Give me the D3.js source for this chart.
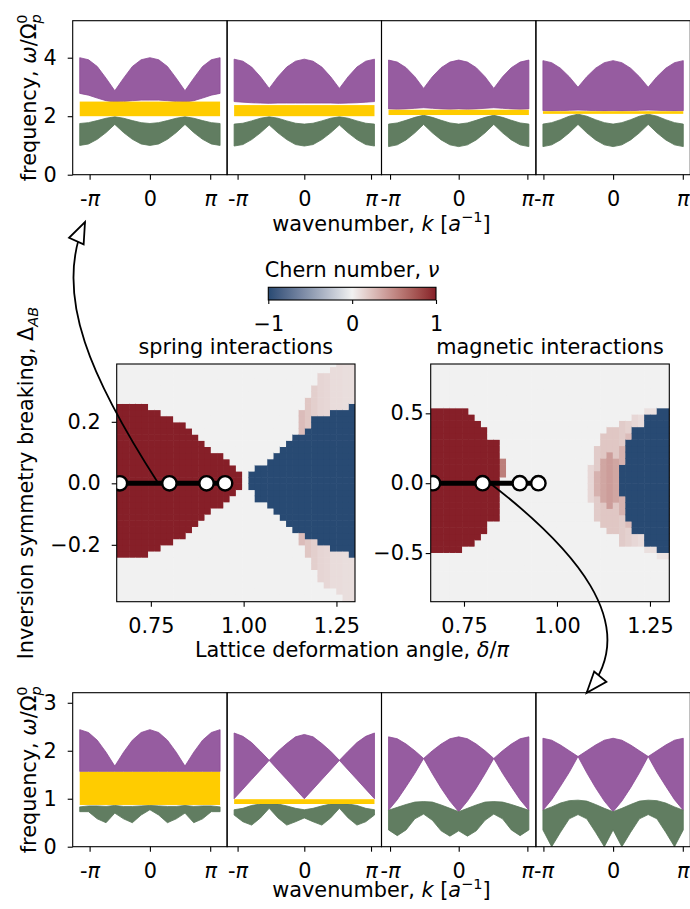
<!DOCTYPE html>
<meta charset='utf-8'>
<script src="https://d3js.org/d3.v7.min.js"></script>
<style>
  body { margin: 0; background: white; }
  svg text { font-family: 'DejaVu Sans', sans-serif; }
</style>
<body></body>
<script>

var _ = null;

// BAND STRUCTURE DATA
// band edges are read at these points along each panel's k range (fraction of kmax)
var uGrid = [-1, -0.875, -0.75, -0.625, -0.5, -0.375, -0.25, -0.125, 0, 0.125, 0.25, 0.375, 0.5, 0.625, 0.75, 0.875, 1];
// kmax of each column of band panels, in units of pi
var kMax = [1.164, 1.052, 1.022, 1.007];
var kTicks = [-Math.PI, 0, Math.PI];
var kTickLabels = ['-π', '0', 'π'];

// top row (spring interactions)
var topPurpleHi = [
  [4.0, 3.93, 3.7, 3.3, 2.87, 3.3, 3.7, 3.93, 4.0, 3.93, 3.7, 3.3, 2.87, 3.3, 3.7, 3.93, 4.0],
  [3.95, 3.88, 3.68, 3.35, 2.95, 3.35, 3.68, 3.88, 3.95, 3.88, 3.68, 3.35, 2.95, 3.35, 3.68, 3.88, 3.95],
  [3.92, 3.85, 3.66, 3.35, 2.95, 3.35, 3.66, 3.85, 3.92, 3.85, 3.66, 3.35, 2.95, 3.35, 3.66, 3.85, 3.92],
  [3.9, 3.83, 3.64, 3.35, 2.99, 3.35, 3.64, 3.83, 3.9, 3.83, 3.64, 3.35, 2.99, 3.35, 3.64, 3.83, 3.9]
];
var topPurpleLo = [
  [2.78, 2.72, 2.62, 2.53, 2.48, 2.5, 2.53, 2.55, 2.55, 2.55, 2.53, 2.5, 2.48, 2.53, 2.62, 2.72, 2.78],
  [2.5, 2.48, 2.46, 2.45, 2.44, 2.45, 2.45, 2.45, 2.45, 2.45, 2.45, 2.45, 2.44, 2.45, 2.46, 2.48, 2.5],
  [2.25, 2.24, 2.25, 2.27, 2.29, 2.27, 2.25, 2.24, 2.25, 2.24, 2.25, 2.27, 2.29, 2.27, 2.25, 2.24, 2.25],
  [2.19, 2.18, 2.19, 2.2, 2.21, 2.2, 2.19, 2.18, 2.19, 2.18, 2.19, 2.2, 2.21, 2.2, 2.19, 2.18, 2.19]
];
var topGreenHi = [
  [1.75, 1.78, 1.85, 1.93, 1.98, 1.93, 1.85, 1.78, 1.75, 1.78, 1.85, 1.93, 1.98, 1.93, 1.85, 1.78, 1.75],
  [1.73, 1.76, 1.84, 1.93, 1.98, 1.93, 1.84, 1.76, 1.73, 1.76, 1.84, 1.93, 1.98, 1.93, 1.84, 1.76, 1.73],
  [1.73, 1.77, 1.86, 1.96, 2.03, 1.96, 1.86, 1.77, 1.73, 1.77, 1.86, 1.96, 2.03, 1.96, 1.86, 1.77, 1.73],
  [1.73, 1.78, 1.88, 2.0, 2.07, 2.0, 1.88, 1.78, 1.73, 1.78, 1.88, 2.0, 2.07, 2.0, 1.88, 1.78, 1.73]
];
var topGreenLo = [
  [1.0, 1.05, 1.21, 1.44, 1.72, 1.44, 1.21, 1.05, 1.0, 1.05, 1.21, 1.44, 1.72, 1.44, 1.21, 1.05, 1.0],
  [0.98, 1.03, 1.2, 1.43, 1.7, 1.43, 1.2, 1.03, 0.98, 1.03, 1.2, 1.43, 1.7, 1.43, 1.2, 1.03, 0.98],
  [0.96, 1.02, 1.19, 1.43, 1.72, 1.43, 1.19, 1.02, 0.96, 1.02, 1.19, 1.43, 1.72, 1.43, 1.19, 1.02, 0.96],
  [0.96, 1.02, 1.19, 1.43, 1.72, 1.43, 1.19, 1.02, 0.96, 1.02, 1.19, 1.43, 1.72, 1.43, 1.19, 1.02, 0.96]
];
var topGap = [[2.0, 2.5], [2.0, 2.38], [2.04, 2.22], [2.08, 2.17]];

// bottom row (magnetic interactions)
var bottomPurpleHi = [
  [2.44, 2.38, 2.22, 1.97, 1.68, 1.97, 2.22, 2.38, 2.44, 2.38, 2.22, 1.97, 1.68, 1.97, 2.22, 2.38, 2.44],
  [2.37, 2.3, 2.17, 1.99, 1.8, 1.99, 2.15, 2.29, 2.34, 2.29, 2.15, 1.99, 1.8, 1.99, 2.17, 2.3, 2.37],
  [2.29, 2.25, 2.14, 2.0, 1.84, 2.0, 2.14, 2.25, 2.29, 2.25, 2.14, 2.0, 1.84, 2.0, 2.14, 2.25, 2.29],
  [2.26, 2.22, 2.12, 2.0, 1.88, 2.0, 2.12, 2.22, 2.26, 2.22, 2.12, 2.0, 1.88, 2.0, 2.12, 2.22, 2.26]
];
var bottomPurpleLo = [
  [1.57, 1.57, 1.57, 1.57, 1.57, 1.57, 1.57, 1.57, 1.57, 1.57, 1.57, 1.57, 1.57, 1.57, 1.57, 1.57, 1.57],
  [1.0, 1.2, 1.4, 1.6, 1.8, 1.6, 1.4, 1.2, 1.0, 1.2, 1.4, 1.6, 1.8, 1.6, 1.4, 1.2, 1.0],
  [0.76, 0.98, 1.25, 1.53, 1.84, 1.52, 1.22, 0.95, 0.73, 0.95, 1.22, 1.52, 1.84, 1.53, 1.25, 0.98, 0.76],
  [0.76, 0.98, 1.26, 1.55, 1.88, 1.54, 1.23, 0.95, 0.73, 0.95, 1.23, 1.54, 1.88, 1.55, 1.26, 0.98, 0.76]
];
var bottomGreenHi = [
  [0.83, 0.85, 0.85, 0.84, 0.86, 0.84, 0.84, 0.85, 0.86, 0.85, 0.84, 0.84, 0.86, 0.84, 0.85, 0.85, 0.83],
  [0.77, 0.8, 0.86, 0.89, 0.9, 0.89, 0.85, 0.8, 0.77, 0.8, 0.85, 0.89, 0.9, 0.89, 0.86, 0.8, 0.77],
  [0.76, 0.82, 0.88, 0.93, 0.94, 0.93, 0.87, 0.8, 0.73, 0.8, 0.87, 0.93, 0.94, 0.93, 0.88, 0.82, 0.76],
  [0.76, 0.83, 0.91, 0.96, 0.97, 0.95, 0.88, 0.8, 0.73, 0.8, 0.88, 0.95, 0.97, 0.96, 0.91, 0.83, 0.76]
];
var bottomGreenLo = [
  [0.73, 0.73, 0.58, 0.5, 0.7, 0.58, 0.5, 0.66, 0.77, 0.66, 0.5, 0.58, 0.7, 0.5, 0.58, 0.73, 0.73],
  [0.66, 0.52, 0.45, 0.6, 0.8, 0.6, 0.45, 0.52, 0.6, 0.52, 0.45, 0.6, 0.8, 0.6, 0.45, 0.52, 0.66],
  [0.35, 0.23, 0.35, 0.58, 0.68, 0.55, 0.33, 0.22, 0.33, 0.22, 0.33, 0.55, 0.68, 0.58, 0.35, 0.23, 0.35],
  [0.35, 0.0, 0.3, 0.58, 0.67, 0.58, 0.3, 0.0, 0.35, 0.0, 0.3, 0.58, 0.67, 0.58, 0.3, 0.0, 0.35]
];
var bottomGap = [[0.87, 1.56], [0.89, 0.99], null, null];

// CHERN NUMBER MAPS (per column of delta: extent in Delta of each region)
var springRedTop = [0.26, 0.26, 0.26, 0.26, 0.26, 0.24, 0.24, 0.22, 0.22, 0.20, 0.20, 0.18, 0.16, 0.14, 0.12, 0.10, 0.10, 0.08, 0.06, 0.04,
  _, _, _, _, _, _, _, _, _, _, _, _, _, _, _, _, _, _];
var springRedBottom = [-0.24, -0.24, -0.24, -0.24, -0.24, -0.22, -0.22, -0.20, -0.20, -0.18, -0.18, -0.16, -0.14, -0.12, -0.10, -0.08, -0.08, -0.06, -0.04, -0.02,
  _, _, _, _, _, _, _, _, _, _, _, _, _, _, _, _, _, _];
var springBlueTop = [_, _, _, _, _, _, _, _, _, _, _, _, _, _, _, _, _, _, _, _, _,
  0.04, 0.06, 0.06, 0.08, 0.10, 0.12, 0.14, 0.16, 0.16, 0.18, 0.22, 0.22, 0.22, 0.24, 0.24, 0.24, 0.26];
var springBlueBottom = [_, _, _, _, _, _, _, _, _, _, _, _, _, _, _, _, _, _, _, _, _,
  -0.02, -0.06, -0.06, -0.08, -0.10, -0.12, -0.14, -0.16, -0.16, -0.18, -0.18, -0.20, -0.20, -0.22, -0.22, -0.22, -0.24];
var springPinkTop = [_, _, _, _, _, _, _, _, _, _, _, _, _, _, _, _, _, _, _, _, _, _, _, _, _, _, _, _, _,
  0.24, 0.28, 0.32, 0.36, 0.36, 0.38, 0.40, 0.40, 0.40];
var springPinkBottom = [_, _, _, _, _, _, _, _, _, _, _, _, _, _, _, _, _, _, _, _, _, _, _, _, _, _, _, _, _,
  -0.20, -0.24, -0.28, -0.32, -0.34, -0.34, -0.36, -0.40, -0.40];
var springPinkValue = [_, _, _, _, _, _, _, _, _, _, _, _, _, _, _, _, _, _, _, _, _, _, _, _, _, _, _, _, _,
  0.25, 0.2, 0.16, 0.13, 0.12, 0.1, 0.1, 0.09, 0.09];

var magRedTop = [0.54, 0.54, 0.54, 0.54, 0.54, 0.54, 0.495, 0.45, 0.405, 0.315, 0.315,
  _, _, _, _, _, _, _, _, _, _, _, _, _, _, _, _, _, _, _, _, _, _, _, _, _, _, _];
var magRedBottom = [-0.495, -0.495, -0.495, -0.495, -0.495, -0.45, -0.45, -0.405, -0.36, -0.27, -0.27,
  _, _, _, _, _, _, _, _, _, _, _, _, _, _, _, _, _, _, _, _, _, _, _, _, _, _, _];
var magBlueTop = [_, _, _, _, _, _, _, _, _, _, _, _, _, _, _, _, _, _, _, _, _, _, _, _, _, _, _, _, _, _,
  0.135, 0.315, 0.405, 0.405, 0.495, 0.495, 0.54, 0.54];
var magBlueBottom = [_, _, _, _, _, _, _, _, _, _, _, _, _, _, _, _, _, _, _, _, _, _, _, _, _, _, _, _, _, _,
  -0.09, -0.27, -0.36, -0.36, -0.45, -0.45, -0.495, -0.495];
var magPinkTop = [_, _, _, _, _, _, _, _, _, _, _, 0.18, _, _, _, _, _, _, _, _, _, _, _, _, _,
  0.135, 0.27, 0.36, 0.405, 0.405, 0.45, 0.45, 0.495, 0.495, 0.54, 0.54, 0.54, 0.54];
var magPinkBottom = [_, _, _, _, _, _, _, _, _, _, _, 0.045, _, _, _, _, _, _, _, _, _, _, _, _, _,
  -0.135, -0.27, -0.315, -0.36, -0.36, -0.45, -0.45, -0.45, -0.45, -0.495, -0.495, -0.54, -0.54];
var magPinkValue = [_, _, _, _, _, _, _, _, _, _, _, 0.55, _, _, _, _, _, _, _, _, _, _, _, _, _,
  0.12, 0.18, 0.2, 0.2, 0.2, 0.18, 0.15, 0.12, 0.1, 0.08, 0.08, 0.06, 0.06];
// darker centre of the crescent
var magCoreTop = [_, _, _, _, _, _, _, _, _, _, _, _, _, _, _, _, _, _, _, _, _, _, _, _, _, _,
  0.09, 0.18, 0.225, 0.18, 0.27, 0.36, _, _, _, _, _, _];
var magCoreBottom = [_, _, _, _, _, _, _, _, _, _, _, _, _, _, _, _, _, _, _, _, _, _, _, _, _, _,
  -0.09, -0.135, -0.18, -0.135, -0.225, -0.315, _, _, _, _, _, _];
var magCoreValue = [_, _, _, _, _, _, _, _, _, _, _, _, _, _, _, _, _, _, _, _, _, _, _, _, _, _,
  0.3, 0.36, 0.4, 0.36, 0.3, 0.25, _, _, _, _, _, _];

var pathDeltas = [2 / 3, 0.8, 0.9, 0.95];
var deltaTicks = [0.75, 1.0, 1.25];
var springTicks = [-0.2, 0, 0.2];
var magTicks = [-0.5, 0, 0.5];
var cbarTicks = [-1, 0, 1];

// SETTINGS
var ww = 690, wh = 909;
var font = 20.8;
var purple = '#8b4a96', green = '#587658', gold = '#ffcc00';
var cmap = d3.scaleLinear().domain([-1, 0, 1])
  .range(['#284a73', '#f1f1f1', '#861f28'])
  .interpolate(d3.interpolateLab);
var svg = d3.select('body').append('svg').attr('width', ww).attr('height', wh);
var defs = svg.append('defs');

// segs: [text, italic, size factor, dx, dy]
function richText(parent, x, y, segs, rotate) {
  var t = parent.append('text')
    .attr('font-size', font)
    .attr('text-anchor', 'middle')
    .attr('fill', '#000');
  if (rotate) t.attr('transform', 'translate(' + x + ',' + y + ') rotate(-90)');
  else t.attr('x', x).attr('y', y);
  segs.forEach(function (s) {
    var ts = t.append('tspan').text(s[0]);
    if (s[1]) ts.attr('font-style', 'italic');
    if (s[2]) ts.attr('font-size', font * s[2]);
    if (s[3]) ts.attr('dx', s[3]);
    if (s[4]) ts.attr('dy', s[4]);
  });
  return t;
}

function greekText(sel, str) {
  sel.text(null);
  Array.from(str).forEach(function (ch) {
    sel.append('tspan').text(ch).attr('font-style', /[α-ω]/.test(ch) ? 'italic' : null);
  });
}

function styleAxis(g) {
  g.attr('font-family', null).attr('font-size', null);
  g.select('.domain').remove();
  g.selectAll('.tick line').attr('stroke', '#000').attr('stroke-width', 1.1);
  g.selectAll('.tick text').attr('font-size', font).attr('fill', '#000');
}

function frame(x0, y0, x1, y1) {
  svg.append('rect')
    .attr('x', x0).attr('y', y0)
    .attr('width', x1 - x0).attr('height', y1 - y0)
    .attr('fill', 'none')
    .attr('stroke', '#000')
    .attr('stroke-width', 1.1);
}

// BAND PANELS
var panelX = [72.7, 227.1, 381.5, 535.9, 690.3];
var bandRows = [
  {top: 20.7, bottom: 174.7, ymax: 5.265, yticks: [0, 2, 4], xlabelY: 230.7,
    purpleHi: topPurpleHi, purpleLo: topPurpleLo, greenHi: topGreenHi, greenLo: topGreenLo, gap: topGap},
  {top: 692.7, bottom: 846.7, ymax: 3.21, yticks: [0, 1, 2, 3], xlabelY: 897,
    purpleHi: bottomPurpleHi, purpleLo: bottomPurpleLo, greenHi: bottomGreenHi, greenLo: bottomGreenLo, gap: bottomGap}
];

bandRows.forEach(function (row, r) {
  var y = d3.scaleLinear().domain([0, row.ymax]).range([row.bottom, row.top]);
  for (var i = 0; i < 4; i++) {
    var kx = kMax[i] * Math.PI;
    var x = d3.scaleLinear().domain([-1.1 * kx, 1.1 * kx]).range([panelX[i], panelX[i + 1]]);
    var id = 'clipb' + r + i;
    defs.append('clipPath').attr('id', id).append('rect')
      .attr('x', panelX[i]).attr('y', row.top)
      .attr('width', panelX[i + 1] - panelX[i]).attr('height', row.bottom - row.top);
    var plot = svg.append('g').attr('clip-path', 'url(#' + id + ')');
    var band = function (hi, lo) {
      return d3.area()
        .x(function (d, j) { return x(uGrid[j] * kx); })
        .y0(function (d, j) { return y(lo[j]); })
        .y1(function (d) { return y(d); })(hi);
    };
    plot.append('path')
      .attr('d', band(row.purpleHi[i], row.purpleLo[i]))
      .attr('fill', purple)
      .attr('fill-opacity', 0.9)
      .attr('stroke', purple)
      .attr('stroke-width', 0.8);
    plot.append('path')
      .attr('d', band(row.greenHi[i], row.greenLo[i]))
      .attr('fill', green)
      .attr('fill-opacity', 0.95)
      .attr('stroke', green)
      .attr('stroke-width', 0.8);
    if (row.gap[i]) {
      plot.append('rect')
        .attr('x', x(-kx)).attr('width', x(kx) - x(-kx))
        .attr('y', y(row.gap[i][1]))
        .attr('height', y(row.gap[i][0]) - y(row.gap[i][1]))
        .attr('fill', gold);
    }
    var xa = svg.append('g')
      .attr('transform', 'translate(0,' + row.bottom + ')')
      .call(d3.axisBottom(x).tickValues(kTicks).tickSize(5).tickPadding(11.5));
    styleAxis(xa);
    xa.selectAll('.tick text').each(function (d, j) { greekText(d3.select(this), kTickLabels[j]); });
    if (i == 0) {
      var ya = svg.append('g')
        .attr('transform', 'translate(' + panelX[0] + ',0)')
        .call(d3.axisLeft(y).tickValues(row.yticks).tickSize(5).tickPadding(11).tickFormat(d3.format('d')));
      styleAxis(ya);
    }
    frame(panelX[i], row.top, panelX[i + 1], row.bottom);
  }
  richText(svg, 36, (row.top + row.bottom) / 2,
    [['frequency, '], ['ω', 1], ['/Ω'], ['p', 1, 0.7, 0, 5], ['0', 0, 0.7, -9.5, -14]], true);
  richText(svg, (panelX[0] + panelX[4]) / 2, row.xlabelY,
    [['wavenumber, '], ['k', 1], [' ['], ['a', 1], ['−1', 0, 0.7, 0, -8.5], [']', 0, 1, 0, 8.5]]);
});

// CHERN NUMBER MAPS
function inside(top, bottom, c, mid) {
  return top && top[c] != null && mid < top[c] && mid > bottom[c];
}
function chernValue(m, c, mid) {
  if (inside(m.blueTop, m.blueBottom, c, mid)) return -1;
  if (inside(m.redTop, m.redBottom, c, mid)) return 1;
  if (inside(m.coreTop, m.coreBottom, c, mid)) return m.coreValue[c];
  if (inside(m.pinkTop, m.pinkBottom, c, mid)) return m.pinkValue[c];
  return 0;
}

function chernMap(m) {
  var x = d3.scaleLinear().domain(m.xdom).range([m.left, m.right]);
  var y = d3.scaleLinear().domain(m.ydom).range([m.bottom, m.top]);
  var id = 'clip' + m.name;
  defs.append('clipPath').attr('id', id).append('rect')
    .attr('x', m.left).attr('y', m.top)
    .attr('width', m.right - m.left).attr('height', m.bottom - m.top);
  var plot = svg.append('g').attr('clip-path', 'url(#' + id + ')');
  var cells = [];
  for (var c = 0; c < m.redTop.length; c++) {
    for (var r = 0; r < m.rows; r++) {
      var d0 = m.colStart + c * m.colStep;
      var e0 = m.rowStart + r * m.rowStep;
      cells.push({d0: d0, e0: e0, v: chernValue(m, c, e0 + m.rowStep / 2)});
    }
  }
  plot.selectAll('rect').data(cells).join('rect')
    .attr('x', function (d) { return x(d.d0); })
    .attr('width', function (d) { return x(d.d0 + m.colStep) - x(d.d0) + 0.6; })
    .attr('y', function (d) { return y(d.e0 + m.rowStep); })
    .attr('height', function (d) { return y(d.e0) - y(d.e0 + m.rowStep) + 0.6; })
    .attr('fill', function (d) { return cmap(d.v); });
  plot.append('line')
    .attr('x1', x(pathDeltas[0])).attr('x2', x(pathDeltas[pathDeltas.length - 1]))
    .attr('y1', y(0)).attr('y2', y(0))
    .attr('stroke', '#000')
    .attr('stroke-width', 5);
  plot.selectAll('circle').data(pathDeltas).join('circle')
    .attr('cx', function (d) { return x(d); })
    .attr('cy', y(0))
    .attr('r', 7.2)
    .attr('fill', '#fff')
    .attr('stroke', '#000')
    .attr('stroke-width', 2.4);
  var xa = svg.append('g')
    .attr('transform', 'translate(0,' + m.bottom + ')')
    .call(d3.axisBottom(x).tickValues(deltaTicks).tickSize(5).tickPadding(11.5).tickFormat(d3.format('.2f')));
  styleAxis(xa);
  var ya = svg.append('g')
    .attr('transform', 'translate(' + m.left + ',0)')
    .call(d3.axisLeft(y).tickValues(m.yticks).tickSize(5).tickPadding(m.ypad).tickFormat(d3.format('.1f')));
  styleAxis(ya);
  frame(m.left, m.top, m.right, m.bottom);
  richText(svg, (m.left + m.right) / 2, 354, [[m.title]]);
  return {x: x, y: y};
}

var spring = chernMap({
  name: 'spring', title: 'spring interactions',
  left: 116.7, right: 355, top: 364, bottom: 601.7,
  xdom: [0.658, 1.3], ydom: [-0.385, 0.388], yticks: springTicks, ypad: 11,
  colStart: 0.658, colStep: 0.0169, rowStart: -0.40, rowStep: 0.02, rows: 40,
  redTop: springRedTop, redBottom: springRedBottom,
  blueTop: springBlueTop, blueBottom: springBlueBottom,
  pinkTop: springPinkTop, pinkBottom: springPinkBottom, pinkValue: springPinkValue
});
var magnetic = chernMap({
  name: 'magnetic', title: 'magnetic interactions',
  left: 430.7, right: 669.3, top: 364, bottom: 601.7,
  xdom: [0.6605, 1.302], ydom: [-0.848, 0.853], yticks: magTicks, ypad: 2,
  colStart: 0.6605, colStep: 0.01688, rowStart: -0.855, rowStep: 0.045, rows: 38,
  redTop: magRedTop, redBottom: magRedBottom,
  blueTop: magBlueTop, blueBottom: magBlueBottom,
  pinkTop: magPinkTop, pinkBottom: magPinkBottom, pinkValue: magPinkValue,
  coreTop: magCoreTop, coreBottom: magCoreBottom, coreValue: magCoreValue
});

richText(svg, 352, 657, [['Lattice deformation angle, '], ['δ', 1], ['/'], ['π', 1]]);
richText(svg, 33, 483, [['Inversion symmetry breaking, '], ['Δ'], ['AB', 1, 0.7, 0, 4.5]], true);

// COLORBAR
var cbX = d3.scaleLinear().domain([-1, 1]).range([268.3, 436]);
var grad = defs.append('linearGradient').attr('id', 'cbar');
grad.selectAll('stop').data(d3.range(0, 1.0001, 0.05)).join('stop')
  .attr('offset', function (d) { return d; })
  .attr('stop-color', function (d) { return cmap(-1 + 2 * d); });
svg.append('rect')
  .attr('x', cbX(-1)).attr('y', 287.3)
  .attr('width', cbX(1) - cbX(-1)).attr('height', 12.7)
  .attr('fill', 'url(#cbar)')
  .attr('stroke', '#000')
  .attr('stroke-width', 1.1);
var cba = svg.append('g')
  .attr('transform', 'translate(0,300)')
  .call(d3.axisBottom(cbX).tickValues(cbarTicks).tickSize(4).tickPadding(12).tickFormat(d3.format('d')));
styleAxis(cba);
richText(svg, 352, 277, [['Chern number, '], ['ν', 1]]);

// ARROWS
function arrow(p0, c1, c2, p3) {
  svg.append('path')
    .attr('d', 'M' + p0 + 'C' + c1 + ' ' + c2 + ' ' + p3)
    .attr('fill', 'none')
    .attr('stroke', '#000')
    .attr('stroke-width', 1.8);
  var dx = p3[0] - c2[0], dy = p3[1] - c2[1];
  var len = Math.sqrt(dx * dx + dy * dy);
  dx /= len; dy /= len;
  var bx = p3[0] - 21 * dx, by = p3[1] - 21 * dy;
  svg.append('polygon')
    .attr('points', [p3, [bx - 8 * dy, by + 8 * dx], [bx + 8 * dy, by - 8 * dx]].join(' '))
    .attr('fill', '#fff')
    .attr('stroke', '#000')
    .attr('stroke-width', 1.8)
    .attr('stroke-linejoin', 'miter');
}
arrow([spring.x(0.77), spring.y(0)], [93, 382], [52, 295], [85, 222]);
arrow([magnetic.x(0.82), magnetic.y(0)], [570, 545], [645, 624], [586.7, 692.7]);

</script>
